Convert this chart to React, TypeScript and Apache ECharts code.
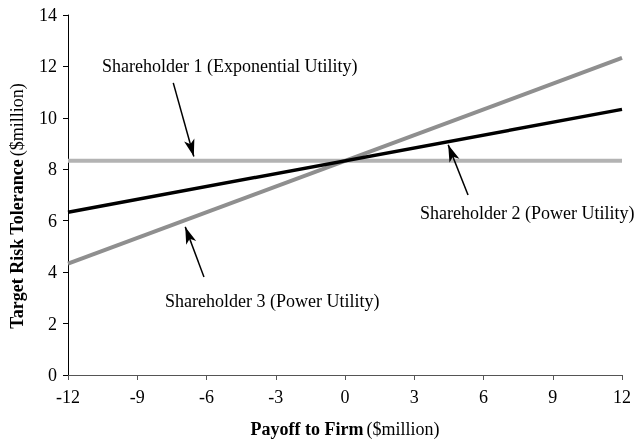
import React, { useEffect, useRef } from "react";
import * as echarts from "echarts";

const xRange = [-12, 12];
const xTicks = [-12, -9, -6, -3, 0, 3, 6, 9, 12];
const shareholder1 = [8.33, 8.33];
const shareholder2 = [6.33, 10.33];
const shareholder3 = [4.33, 12.33];

const labels = [
  "Shareholder 1 (Exponential Utility)",
  "Shareholder 2 (Power Utility)",
  "Shareholder 3 (Power Utility)",
];

// arrow annotations in data coordinates: [tailX, tailY, tipX, tipY]
const arrows = [
  [-7.44, 11.36, -6.55, 8.5],
  [5.33, 7.0, 4.47, 8.95],
  [-6.11, 3.81, -6.92, 5.76],
];

const FONT = "Liberation Serif, Times New Roman, serif";

export default function App() {
  const ref = useRef<HTMLDivElement>(null);
  useEffect(() => {
    if (!ref.current) return;
    const chart = echarts.init(ref.current, null, { renderer: "svg" });
    const pairs = (ys: number[]) => xRange.map((x, i) => [x, ys[i]]);
    const rich = {
      b: { fontFamily: FONT, fontSize: 18, fontWeight: "bold", color: "#000" },
      n: { fontFamily: FONT, fontSize: 18, color: "#000" },
    };
    chart.setOption({
      animation: false,
      textStyle: { fontFamily: FONT },
      grid: { left: 67, right: 9, top: 15, bottom: 70, containLabel: false },
      xAxis: {
        type: "value",
        min: -12,
        max: 12,
        interval: 3,
        name: "{b|Payoff to Firm} {n|($million)}",
        nameLocation: "middle",
        nameGap: 45,
        nameTextStyle: { rich },
        axisLine: { show: true, onZero: false, lineStyle: { color: "#555", width: 1 } },
        axisTick: { show: true, inside: false, length: 5, lineStyle: { color: "#555" } },
        axisLabel: {
          fontFamily: FONT,
          fontSize: 18,
          color: "#000",
          margin: 13,
          formatter: (v: number) => (xTicks.includes(v) ? String(v) : ""),
        },
        splitLine: { show: false },
      },
      yAxis: {
        type: "value",
        min: 0,
        max: 14,
        interval: 2,
        name: "{b|Target Risk Tolerance} {n|($million)}",
        nameLocation: "middle",
        nameRotate: 90,
        nameGap: 42,
        nameTextStyle: { rich, padding: [0, 22, 0, 0] },
        axisLine: { show: true, onZero: false, lineStyle: { color: "#000", width: 1 } },
        axisTick: { show: true, inside: false, length: 5, lineStyle: { color: "#000" } },
        axisLabel: { fontFamily: FONT, fontSize: 18, color: "#000", margin: 11 },
        splitLine: { show: false },
      },
      series: [
        {
          name: labels[0],
          type: "line",
          data: pairs(shareholder1),
          showSymbol: false,
          symbol: "none",
          lineStyle: { color: "#b3b3b3", width: 4 },
          z: 2,
        },
        {
          name: labels[2],
          type: "line",
          data: pairs(shareholder3),
          showSymbol: false,
          symbol: "none",
          lineStyle: { color: "#8f8f8f", width: 4 },
          z: 3,
        },
        {
          name: labels[1],
          type: "line",
          data: pairs(shareholder2),
          showSymbol: false,
          symbol: "none",
          lineStyle: { color: "#000", width: 3.5 },
          z: 4,
          markLine: {
            silent: true,
            symbol: ["none", "arrow"],
            symbolSize: [8, 17],
            label: { show: false },
            lineStyle: { color: "#000", width: 1.5, type: "solid" },
            emphasis: { disabled: true },
            data: arrows.map((a) => [
              { coord: [a[0], a[1]] },
              { coord: [a[2], a[3]] },
            ]),
          },
        },
      ],
      graphic: [
        {
          type: "text",
          left: 102,
          top: 57,
          style: { text: labels[0], font: `18px ${FONT}`, fill: "#000" },
        },
        {
          type: "text",
          left: 420,
          top: 204,
          style: { text: labels[1], font: `18px ${FONT}`, fill: "#000" },
        },
        {
          type: "text",
          left: 165,
          top: 292,
          style: { text: labels[2], font: `18px ${FONT}`, fill: "#000" },
        },
      ],
    });
    return () => chart.dispose();
  }, []);
  return (
    <div
      ref={ref}
      style={{ position: "fixed", left: 0, top: 0, width: 634, height: 445 }}
    />
  );
}
